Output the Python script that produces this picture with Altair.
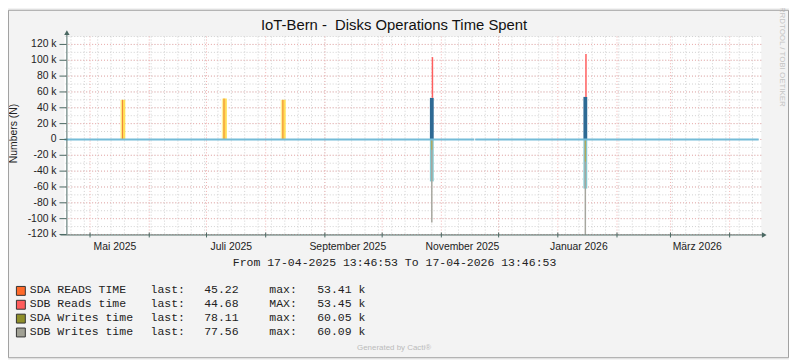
import altair as alt
import pandas as pd

# ---------------- data ----------------
t_start = "2025-04-17T13:46:53"
t_end = "2026-04-17T13:46:53"

yellow_dates = ["2025-05-18T00:00:00", "2025-07-10T04:00:00", "2025-08-10T00:00:00"]
yellow_values = [50000, 51600, 50000]

blue_dates = ["2025-10-27T00:00:00", "2026-01-15T10:00:00"]
sda_reads = [52500, 53750]
sdb_reads_top = [104000, 108000]
sda_writes = [-53000, -62000]
sdb_writes_bottom = [-105000, -120000]
olive_writes = [-13000, -28000]

zero_seg_start = [t_start, "2025-11-18T18:00:00"]
zero_seg_end = ["2025-11-18T06:00:00", "2026-04-16T05:00:00"]

y_ticks = list(range(-120000, 120001, 20000))
y_labels = ["-120 k", "-100 k", "-80 k", "-60 k", "-40 k", "-20 k", "0",
            "20 k", "40 k", "60 k", "80 k", "100 k", "120 k"]
x_label_dates = ["2025-05-14T00:00:00", "2025-07-14T00:00:00", "2025-09-13T00:00:00",
                 "2025-11-12T00:00:00", "2026-01-12T00:00:00", "2026-03-15T00:00:00"]
x_labels = ["Mai 2025", "Juli 2025", "September 2025", "November 2025",
            "Januar 2026", "März 2026"]

legend_names = ["SDA READS TIME", "SDB Reads time", "SDA Writes time", "SDB Writes time"]
legend_last = ["45.22", "44.68", "78.11", "77.56"]
legend_maxlbl = ["max:", "MAX:", "max:", "max:"]
legend_max = ["53.41 k", "53.45 k", "60.05 k", "60.09 k"]
legend_colors = ["#FF6A2A", "#FF5C5C", "#8F8F2A", "#A0A094"]

title_text = "IoT-Bern - \u00a0Disks Operations Time Spent"
range_text = "From 17-04-2025 13:46:53 To 17-04-2026 13:46:53"

# ---------------- helpers ----------------
FMT = "%Y-%m-%dT%H:%M:%S"


def shift(d, hours):
    return (pd.Timestamp(d) + pd.Timedelta(hours=hours)).strftime(FMT)


xscale = alt.Scale(domain=[alt.DateTime(year=2025, month=4, date=17, hours=13, minutes=46, seconds=53),
                           alt.DateTime(year=2026, month=4, date=17, hours=13, minutes=46, seconds=53)])
yscale = alt.Scale(domain=[-120000, 130000], nice=False, zero=False)

AXIS_COL = "#4a6862"
GRID_GREY = "#d0d0d0"
GRID_RED = "#f0b0b0"
FONT = "Liberation Sans"
MONO = "Liberation Mono"
TXT = "#222222"

X = lambda f: alt.X(f, scale=xscale, axis=None)
Y = lambda f: alt.Y(f, scale=yscale, axis=None)

# grid data
hg = pd.DataFrame({"v": list(range(-120000, 130001, 10000))})
hg_major = pd.DataFrame({"v": y_ticks, "lbl": y_labels})
weeks = pd.DataFrame({"d": [t.strftime(FMT) for t in pd.date_range("2025-04-21", "2026-04-17", freq="7D")]})
months = pd.DataFrame({"d": [t.strftime(FMT) for t in pd.date_range("2025-05-01", "2026-04-01", freq="MS")]})
xl = pd.DataFrame({"d": x_label_dates, "lbl": x_labels})

h_minor = alt.Chart(hg).mark_rule(color=GRID_GREY, strokeDash=[1, 2], strokeWidth=1).encode(y=Y("v:Q"))
h_major = alt.Chart(hg_major).mark_rule(color=GRID_RED, strokeDash=[1, 2], strokeWidth=1).encode(y=Y("v:Q"))
v_minor = alt.Chart(weeks).mark_rule(color=GRID_GREY, strokeDash=[1, 2], strokeWidth=1).encode(x=X("d:T"))
v_major = alt.Chart(months).mark_rule(color=GRID_RED, strokeDash=[1, 2], strokeWidth=1).encode(x=X("d:T"))

month_ticks = alt.Chart(months).mark_rule(color=AXIS_COL).encode(
    x=X("d:T"), y=alt.value(198), y2=alt.value(203))
y_tick_marks = alt.Chart(hg_major).mark_rule(color=AXIS_COL).encode(
    y=Y("v:Q"), x=alt.value(-5), x2=alt.value(2))
y_tick_labels = alt.Chart(hg_major).mark_text(font=FONT, fontSize=10.5, color=TXT,
                                              align="right", baseline="middle").encode(
    y=Y("v:Q"), x=alt.value(-8), text="lbl:N")
x_tick_labels = alt.Chart(xl).mark_text(font=FONT, fontSize=10.5, color=TXT,
                                        align="center", baseline="alphabetic").encode(
    x=X("d:T"), y=alt.value(215.5), text="lbl:N")

# yellow spikes
ydf = pd.DataFrame({
    "d": yellow_dates,
    "x0": [shift(d, -28) for d in yellow_dates],
    "xm": [shift(d, -14) for d in yellow_dates],
    "x1": [shift(d, 34) for d in yellow_dates],
    "v": yellow_values,
    "z": [0] * len(yellow_dates),
})
yellow_pale = alt.Chart(ydf).mark_rect(color="#FFF3A8").encode(
    x=X("x0:T"), x2="x1:T", y=Y("v:Q"), y2="z:Q")
yellow_main = alt.Chart(ydf).mark_rect(color="#FFDD55").encode(
    x=X("xm:T"), x2="x1:T", y=Y("v:Q"), y2="z:Q")
yellow_line = alt.Chart(ydf).mark_rule(color="#F0883A", strokeWidth=1).encode(
    x=X("d:T"), y=Y("v:Q"), y2="z:Q")

# blue / teal spikes
bdf = pd.DataFrame({
    "d": blue_dates,
    "dr": [shift(d, 8) for d in blue_dates],
    "x0": [shift(d, -24) for d in blue_dates],
    "x1": [shift(d, 24) for d in blue_dates],
    "sda_r": sda_reads,
    "sdb_r": sdb_reads_top,
    "sda_w": sda_writes,
    "sdb_w": sdb_writes_bottom,
    "olive": olive_writes,
    "z": [0] * len(blue_dates),
})
red_line = alt.Chart(bdf).mark_rule(color="#FF5E5E", strokeWidth=1.5).encode(
    x=X("dr:T"), y=Y("sdb_r:Q"), y2="sda_r:Q")
grey_line = alt.Chart(bdf).mark_rule(color="#A6A69E", strokeWidth=1.5).encode(
    x=X("d:T"), y=Y("sdb_w:Q"), y2="z:Q")
teal_rect = alt.Chart(bdf).mark_rect(color="#84CAD2").encode(
    x=X("x0:T"), x2="x1:T", y=Y("sda_w:Q"), y2="z:Q")
blue_rect = alt.Chart(bdf).mark_rect(color="#2E6A94").encode(
    x=X("x0:T"), x2="x1:T", y=Y("sda_r:Q"), y2="z:Q")
olive_line = alt.Chart(bdf).mark_rule(color="#B4AA48", strokeWidth=1).encode(
    x=X("d:T"), y=Y("olive:Q"), y2="z:Q")

# zero line
zdf = pd.DataFrame({"s": zero_seg_start, "e": zero_seg_end, "z": [0, 0]})
zero_line = alt.Chart(zdf).mark_rule(color="#74BCD8", strokeWidth=2).encode(
    x=X("s:T"), x2="e:T", y=Y("z:Q"))

dummy = pd.DataFrame({"a": [0]})

# axis lines and arrows
y_axis_line = alt.Chart(dummy).mark_rule(color=AXIS_COL, strokeWidth=1).encode(
    x=alt.value(2.5), y=alt.value(-3), y2=alt.value(200))
x_axis_line = alt.Chart(dummy).mark_rule(color=AXIS_COL, strokeWidth=1).encode(
    x=alt.value(-4), x2=alt.value(706), y=alt.value(200.5))
arrow_up = alt.Chart(dummy).mark_point(shape="triangle-up", filled=True, color=AXIS_COL,
                                        size=30, opacity=1).encode(
    x=alt.value(2.5), y=alt.value(-4))
arrow_right = alt.Chart(dummy).mark_point(shape="triangle-right", filled=True, color=AXIS_COL,
                                           size=30, opacity=1).encode(
    x=alt.value(707), y=alt.value(200.5))

# texts
title = alt.Chart(dummy).mark_text(text=title_text, font=FONT, fontSize=15, color="#111111",
                                   align="center", baseline="alphabetic").encode(
    x=alt.value(333), y=alt.value(-7))
ytitle = alt.Chart(dummy).mark_text(text="Numbers (N)", font=FONT, fontSize=10.5, color=TXT,
                                    align="center", baseline="middle", angle=270).encode(
    x=alt.value(-51), y=alt.value(98))
range_lbl = alt.Chart(dummy).mark_text(text=range_text, font=MONO, fontSize=11.6, color=TXT,
                                       align="center", baseline="alphabetic").encode(
    x=alt.value(333.5), y=alt.value(231.5))
generated = alt.Chart(dummy).mark_text(text="Generated by Cacti®", font=FONT, fontSize=8,
                                       color="#bbbbbb", align="center", baseline="alphabetic").encode(
    x=alt.value(333), y=alt.value(317))
rrd = alt.Chart(dummy).mark_text(text="RRDTOOL / TOBI OETIKER", font=FONT, fontSize=8,
                                 color="#c4c4c4", align="left", baseline="middle", angle=90).encode(
    x=alt.value(725), y=alt.value(-30))


def col_text(lines, xpx, align="left"):
    return alt.Chart(dummy).mark_text(text=lines, font=MONO, fontSize=11.6, color=TXT,
                                      align=align, baseline="alphabetic", lineHeight=14).encode(
        x=alt.value(xpx), y=alt.value(259.5))


leg_names = col_text(legend_names, -35)
leg_last_lbl = col_text(["last:"] * 4, 87)
leg_last = col_text(legend_last, 176, align="right")
leg_max_lbl = col_text(legend_maxlbl, 207)
leg_max = col_text(legend_max, 304, align="right")

boxes = []
for i, c in enumerate(legend_colors):
    boxes.append(alt.Chart(dummy).mark_rect(color=c, stroke="#333333", strokeWidth=1).encode(
        x=alt.value(-48.5), x2=alt.value(-39.5),
        y=alt.value(252.5 + 14 * i), y2=alt.value(261.5 + 14 * i)))

border = alt.Chart(dummy).mark_rect(filled=False, stroke="#a0a0a0", strokeWidth=1).encode(
    x=alt.value(-56.5), x2=alt.value(731.5), y=alt.value(-26.5), y2=alt.value(324.5))

chart = alt.layer(
    h_minor, v_minor, h_major, v_major,
    yellow_pale, yellow_main, yellow_line,
    teal_rect, blue_rect, red_line, grey_line, olive_line,
    zero_line,
    y_axis_line, x_axis_line, month_ticks, y_tick_marks, arrow_up, arrow_right,
    y_tick_labels, x_tick_labels,
    title, ytitle, range_lbl, generated, rrd,
    leg_names, leg_last_lbl, leg_last, leg_max_lbl, leg_max,
    *boxes, border,
).properties(
    width=704, height=200,
    autosize=alt.AutoSizeParams(type="none"),
    padding={"left": 57, "top": 27, "right": 28, "bottom": 125},
    background="#F3F3F3",
).configure_view(fill="white", stroke=None)

chart.save("out.html", embed_options={"renderer": "svg", "actions": False})
